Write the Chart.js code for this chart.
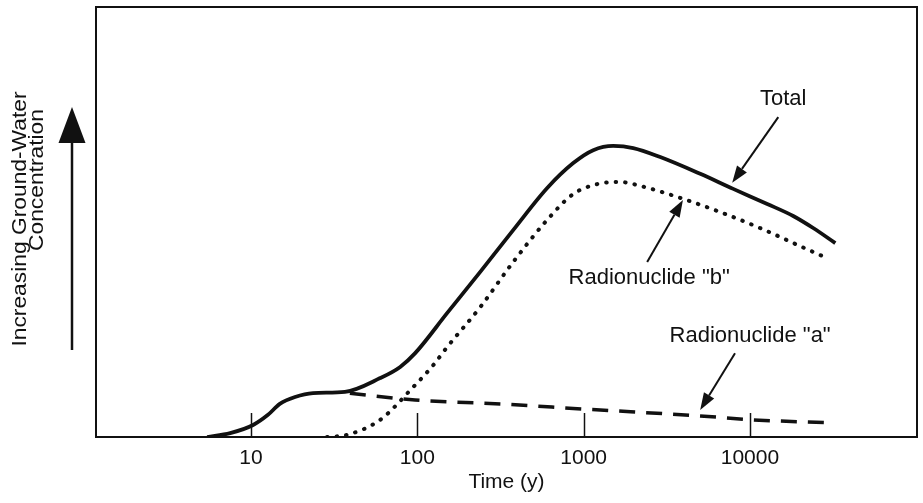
<!DOCTYPE html>
<html>
<head>
<meta charset="utf-8">
<title>Ground-water concentration over time</title>
<script src="https://cdn.jsdelivr.net/npm/chart.js@4/dist/chart.umd.min.js"></script>
<style>
  html, body { margin: 0; padding: 0; background: #fff; }
  canvas { display: block; }
</style>
</head>
<body>
<canvas id="chart" width="923" height="503"></canvas>
<script>
// Time axis ticks (years, log scale)
const tickYears = [10, 100, 1000, 10000];

// Total concentration
const totalYears = [5.45, 7.5, 10.3, 12.6, 14.9, 18.4, 23.6, 36.7, 59.8, 78.9, 97.1, 151, 239, 377, 604, 866, 1142, 1507, 1987, 2888, 5024, 7932, 12700, 18200, 24000, 32600];
const totalConc  = [0, 0.9, 2.8, 5.1, 7.7, 9.3, 10.2, 10.5, 13.7, 16.3, 19.5, 28.8, 38.4, 48.1, 57.9, 63.7, 66.7, 67.7, 67.2, 65.1, 61.2, 57.7, 54.2, 51.4, 48.6, 45.1];

// Radionuclide "b"
const bYears = [28.7, 37.9, 59.8, 94.4, 124, 151, 239, 377, 604, 866, 1205, 1660, 2190, 3810, 6630, 11500, 20000, 29100];
const bConc  = [0, 0.5, 4.0, 11.6, 16.6, 20.9, 30.2, 40.7, 50.5, 56.5, 58.8, 59.3, 58.4, 55.6, 52.3, 48.6, 44.4, 41.6];

// Radionuclide "a"
const aYears = [39.3, 97, 316, 1000, 5024, 10300, 30300];
const aConc  = [10.2, 8.6, 7.7, 6.5, 4.9, 4.0, 3.3];

const pairs = (xs, ys) => xs.map((x, i) => ({ x: x, y: ys[i] }));

// Callout labels with leader arrows, in data coordinates (year, concentration)
const callouts = [
  { text: 'Total',            at: [15850, 78.6], from: [14800, 74.4], to: [7820, 59.1] },
  { text: 'Radionuclide "b"', at: [2477, 37.0],  from: [2410, 40.7],  to: [3955, 55.1] },
  { text: 'Radionuclide "a"', at: [10020, 23.5], from: [8130, 19.5],  to: [5020, 6.3] }
];

const FONT = '"Liberation Sans", Arial, Helvetica, sans-serif';
const INK = '#111';

function arrow(ctx, x1, y1, x2, y2, headLen, headW, lw) {
  const ang = Math.atan2(y2 - y1, x2 - x1);
  const bx = x2 - Math.cos(ang) * headLen;
  const by = y2 - Math.sin(ang) * headLen;
  ctx.save();
  ctx.strokeStyle = INK;
  ctx.fillStyle = INK;
  ctx.lineWidth = lw;
  ctx.lineCap = 'butt';
  ctx.beginPath();
  ctx.moveTo(x1, y1);
  ctx.lineTo(bx, by);
  ctx.stroke();
  const nx = -Math.sin(ang) * headW / 2;
  const ny = Math.cos(ang) * headW / 2;
  ctx.beginPath();
  ctx.moveTo(x2, y2);
  ctx.lineTo(bx + nx, by + ny);
  ctx.lineTo(bx - nx, by - ny);
  ctx.closePath();
  ctx.fill();
  ctx.restore();
}

// rotated caption line, slightly stretched along its reading direction
function verticalText(ctx, text, x, y) {
  ctx.save();
  ctx.translate(x, y);
  ctx.rotate(-Math.PI / 2);
  ctx.scale(1.14, 1);
  ctx.fillText(text, 0, 0);
  ctx.restore();
}

const decorations = {
  id: 'decorations',
  afterDraw(chart) {
    const { ctx, chartArea: a, scales: { x, y } } = chart;
    ctx.save();

    // frame
    ctx.strokeStyle = INK;
    ctx.lineWidth = 2;
    ctx.strokeRect(a.left, a.top, a.right - a.left, a.bottom - a.top);

    // inward tick marks at the labelled decades
    ctx.lineWidth = 1.5;
    x.ticks.forEach(t => {
      const px = Math.round(x.getPixelForValue(t.value)) + 0.5;
      ctx.beginPath();
      ctx.moveTo(px, a.bottom);
      ctx.lineTo(px, a.bottom - 24);
      ctx.stroke();
    });

    // callouts
    ctx.fillStyle = INK;
    ctx.font = '22px ' + FONT;
    ctx.textAlign = 'center';
    ctx.textBaseline = 'middle';
    callouts.forEach(c => {
      ctx.fillText(c.text, x.getPixelForValue(c.at[0]), y.getPixelForValue(c.at[1]));
      arrow(ctx,
        x.getPixelForValue(c.from[0]), y.getPixelForValue(c.from[1]),
        x.getPixelForValue(c.to[0]), y.getPixelForValue(c.to[1]),
        17, 12, 2);
    });

    // vertical axis caption with upward arrow
    ctx.font = '20px ' + FONT;
    ctx.textBaseline = 'alphabetic';
    ctx.textAlign = 'center';
    verticalText(ctx, 'Increasing Ground-Water', 26, 219);
    verticalText(ctx, 'Concentration', 43, 180);
    arrow(ctx, 72, 350, 72, 107, 36, 27, 2.5);

    ctx.restore();
  }
};

new Chart(document.getElementById('chart'), {
  type: 'line',
  data: {
    datasets: [
      {
        label: 'Total',
        data: pairs(totalYears, totalConc),
        borderColor: INK,
        borderWidth: 3.8,
        pointRadius: 0,
        cubicInterpolationMode: 'monotone',
        fill: false
      },
      {
        label: 'Radionuclide "b"',
        data: pairs(bYears, bConc),
        borderColor: INK,
        borderWidth: 4,
        borderDash: [0.5, 9],
        borderCapStyle: 'round',
        pointRadius: 0,
        cubicInterpolationMode: 'monotone',
        fill: false
      },
      {
        label: 'Radionuclide "a"',
        data: pairs(aYears, aConc),
        borderColor: INK,
        borderWidth: 3.5,
        borderDash: [16, 11],
        pointRadius: 0,
        cubicInterpolationMode: 'monotone',
        fill: false
      }
    ]
  },
  options: {
    responsive: false,
    animation: false,
    devicePixelRatio: 1,
    layout: { padding: { left: 96, right: 6, top: 7, bottom: 0 } },
    plugins: { legend: { display: false }, tooltip: { enabled: false } },
    scales: {
      x: {
        type: 'logarithmic',
        min: 1.17,
        max: 101000,
        grid: { display: false, drawTicks: false },
        border: { display: false },
        afterBuildTicks: s => { s.ticks = tickYears.map(v => ({ value: v })); },
        afterFit: s => { s.height = 66; },
        ticks: {
          autoSkip: false,
          maxRotation: 0,
          padding: 9,
          color: INK,
          font: { family: FONT, size: 21 },
          callback: v => String(v)
        },
        title: {
          display: true,
          text: 'Time (y)',
          color: INK,
          font: { family: FONT, size: 21 },
          padding: { top: 0, bottom: 8 }
        }
      },
      y: {
        type: 'linear',
        min: 0,
        max: 100,
        display: false
      }
    }
  },
  plugins: [decorations]
});
</script>
</body>
</html>
